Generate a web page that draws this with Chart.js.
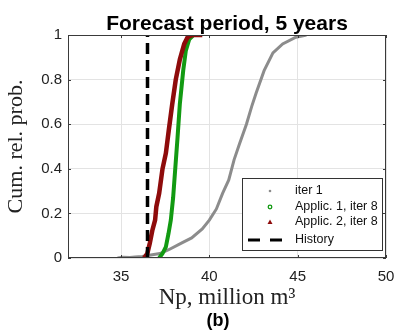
<!DOCTYPE html>
<html>
<head>
<meta charset="utf-8">
<script src="https://cdn.jsdelivr.net/npm/chart.js@4.4.1/dist/chart.umd.min.js"></script>
<style>
  html, body { margin:0; padding:0; background:#fff; }
  #chart { display:block; }
</style>
</head>
<body>
<canvas id="chart" width="399" height="333"></canvas>
<script>
// values
const xTicks = [35, 40, 45, 50];
const yTicks = [0, 0.2, 0.4, 0.6, 0.8, 1];
const historyNp = 36.5;

const iter1Np   = [34.8, 35.1, 35.5, 35.8, 36.2, 36.6, 37.2, 37.7, 38.5, 39.0, 39.6, 40.0, 40.4, 40.75, 41.1, 41.4, 41.7, 42.1, 42.4, 42.65, 43.1, 43.6, 44.15, 44.9, 45.5];
const iter1Prob = [0, 0.003, 0.002, 0.005, 0.007, 0.012, 0.02, 0.037, 0.07, 0.09, 0.13, 0.17, 0.22, 0.29, 0.35, 0.44, 0.51, 0.6, 0.68, 0.74, 0.84, 0.92, 0.96, 0.99, 1.0];

const app1Np   = [37.16, 37.35, 37.54, 37.69, 37.82, 37.95, 38.07, 38.2, 38.33, 38.52, 38.67, 38.86, 39.1];
const app1Prob = [0, 0.02, 0.05, 0.11, 0.17, 0.27, 0.40, 0.54, 0.69, 0.84, 0.93, 0.98, 1.0];

const app2Np   = [36.31, 36.49, 36.63, 36.78, 36.93, 37.0, 37.16, 37.35, 37.54, 37.7, 37.9, 38.1, 38.33, 38.58, 38.77, 39.05, 39.6];
const app2Prob = [0, 0.02, 0.066, 0.126, 0.17, 0.23, 0.29, 0.40, 0.47, 0.57, 0.69, 0.80, 0.89, 0.96, 0.99, 1.0, 1.0];

const legendLabels = ['iter 1', 'Applic. 1, iter 8', 'Applic. 2, iter 8', 'History'];

const pts = (xs, ys) => xs.map((x, i) => ({x: x, y: ys[i]}));

const GRAY = '#8c8c8c', GREEN = '#129a12', RED = '#8e0b0b';

const decor = {
  id: 'decor',
  afterDraw(chart){
    const ctx = chart.ctx, a = chart.chartArea;
    const xs = chart.scales.x, ys = chart.scales.y;
    ctx.save();
    // box + inner ticks
    ctx.strokeStyle = '#3a3a3a'; ctx.lineWidth = 1;
    ctx.strokeRect(a.left + 0.5, a.top + 0.5, a.right - a.left - 1, a.bottom - a.top - 1);
    ctx.beginPath();
    xTicks.forEach(v => {
      const px = Math.round(xs.getPixelForValue(v)) + 0.5;
      ctx.moveTo(px, a.bottom); ctx.lineTo(px, a.bottom - 3);
      ctx.moveTo(px, a.top); ctx.lineTo(px, a.top + 3);
    });
    yTicks.forEach(v => {
      const py = Math.round(ys.getPixelForValue(v)) + 0.5;
      ctx.moveTo(a.left, py); ctx.lineTo(a.left + 3, py);
      ctx.moveTo(a.right, py); ctx.lineTo(a.right - 3, py);
    });
    ctx.stroke();

    // legend
    const lx = 242, ly = 178, lw = 140, lh = 72;
    ctx.fillStyle = '#fff';
    ctx.fillRect(lx, ly, lw, lh);
    ctx.strokeStyle = '#333';
    ctx.strokeRect(lx + 0.5, ly + 0.5, lw, lh);
    const rows = [191, 207, 222, 240];
    ctx.font = '12.5px "Liberation Sans", Arial, sans-serif';
    ctx.textBaseline = 'middle'; ctx.textAlign = 'left';
    rows.forEach((ry, i) => {
      ctx.fillStyle = '#111';
      ctx.fillText(legendLabels[i], 295, ry);
    });
    ctx.fillStyle = GRAY;
    ctx.beginPath(); ctx.arc(270, rows[0], 1.3, 0, Math.PI * 2); ctx.fill();
    ctx.strokeStyle = GREEN; ctx.lineWidth = 1.3;
    ctx.beginPath(); ctx.arc(270, rows[1], 1.8, 0, Math.PI * 2); ctx.stroke();
    ctx.fillStyle = RED;
    ctx.beginPath(); ctx.moveTo(270, rows[2] - 2.5); ctx.lineTo(272.5, rows[2] + 2); ctx.lineTo(267.5, rows[2] + 2); ctx.closePath(); ctx.fill();
    ctx.strokeStyle = '#000'; ctx.lineWidth = 3;
    ctx.beginPath(); ctx.moveTo(248, rows[3]); ctx.lineTo(260, rows[3]); ctx.moveTo(270, rows[3]); ctx.lineTo(282, rows[3]); ctx.stroke();

    // texts
    const cx = (a.left + a.right) / 2;
    ctx.fillStyle = '#000'; ctx.textAlign = 'center'; ctx.textBaseline = 'alphabetic';
    ctx.font = 'bold 21px "Liberation Sans", Arial, sans-serif';
    ctx.fillText('Forecast period, 5 years', cx, 30);
    ctx.fillStyle = '#222';
    ctx.font = '23px "Liberation Serif", "Times New Roman", serif';
    ctx.fillText('Np, million m\u00B3', cx, 304);
    ctx.fillStyle = '#000';
    ctx.font = 'bold 18px "Liberation Sans", Arial, sans-serif';
    ctx.fillText('(b)', 218, 326);
    ctx.save();
    ctx.translate(22, 146.5);
    ctx.rotate(-Math.PI / 2);
    ctx.fillStyle = '#222';
    ctx.font = '22px "Liberation Serif", "Times New Roman", serif';
    ctx.fillText('Cum. rel. prob.', 0, 0);
    ctx.restore();
    ctx.restore();
  }
};

new Chart(document.getElementById('chart').getContext('2d'), {
  type: 'scatter',
  data: {
    datasets: [
      {label: legendLabels[0], data: pts(iter1Np, iter1Prob), showLine: true, borderColor: GRAY, backgroundColor: GRAY,
       borderWidth: 3, pointRadius: 0, order: 4},
      {label: legendLabels[1], data: pts(app1Np, app1Prob), showLine: true, borderColor: GREEN, backgroundColor: GREEN,
       borderWidth: 4, pointRadius: 0, order: 3},
      {label: legendLabels[2], data: pts(app2Np, app2Prob), showLine: true, borderColor: RED, backgroundColor: RED,
       borderWidth: 4.5, pointRadius: 0, order: 2},
      {label: legendLabels[3], data: [{x: historyNp, y: 0}, {x: historyNp, y: 1}], showLine: true, borderColor: '#000',
       borderWidth: 3.5, borderDash: [11, 6], pointRadius: 0, order: 1}
    ]
  },
  options: {
    responsive: false,
    animation: false,
    devicePixelRatio: 1,
    layout: {padding: {top: 35, right: 13, left: 0, bottom: 0}},
    plugins: {legend: {display: false}, title: {display: false}, tooltip: {enabled: false}},
    scales: {
      x: {
        type: 'linear', min: 32, max: 50,
        afterBuildTicks: s => { s.ticks = xTicks.map(v => ({value: v})); },
        afterFit: s => { s.height = 75; s.paddingRight = 0; s.paddingLeft = 0; },
        grid: {color: '#e3e3e3', drawTicks: false},
        border: {display: false},
        ticks: {padding: 10, color: '#222', font: {family: '"Liberation Sans", Arial, sans-serif', size: 15}, maxRotation: 0}
      },
      y: {
        min: 0, max: 1,
        afterBuildTicks: s => { s.ticks = yTicks.map(v => ({value: v})); },
        afterFit: s => { s.width = 68; s.paddingTop = 0; s.paddingBottom = 0; },
        grid: {color: '#e3e3e3', drawTicks: false},
        border: {display: false},
        ticks: {padding: 6, color: '#222', font: {family: '"Liberation Sans", Arial, sans-serif', size: 15},
                callback: v => String(v)}
      }
    }
  },
  plugins: [decor]
});
</script>
</body>
</html>
